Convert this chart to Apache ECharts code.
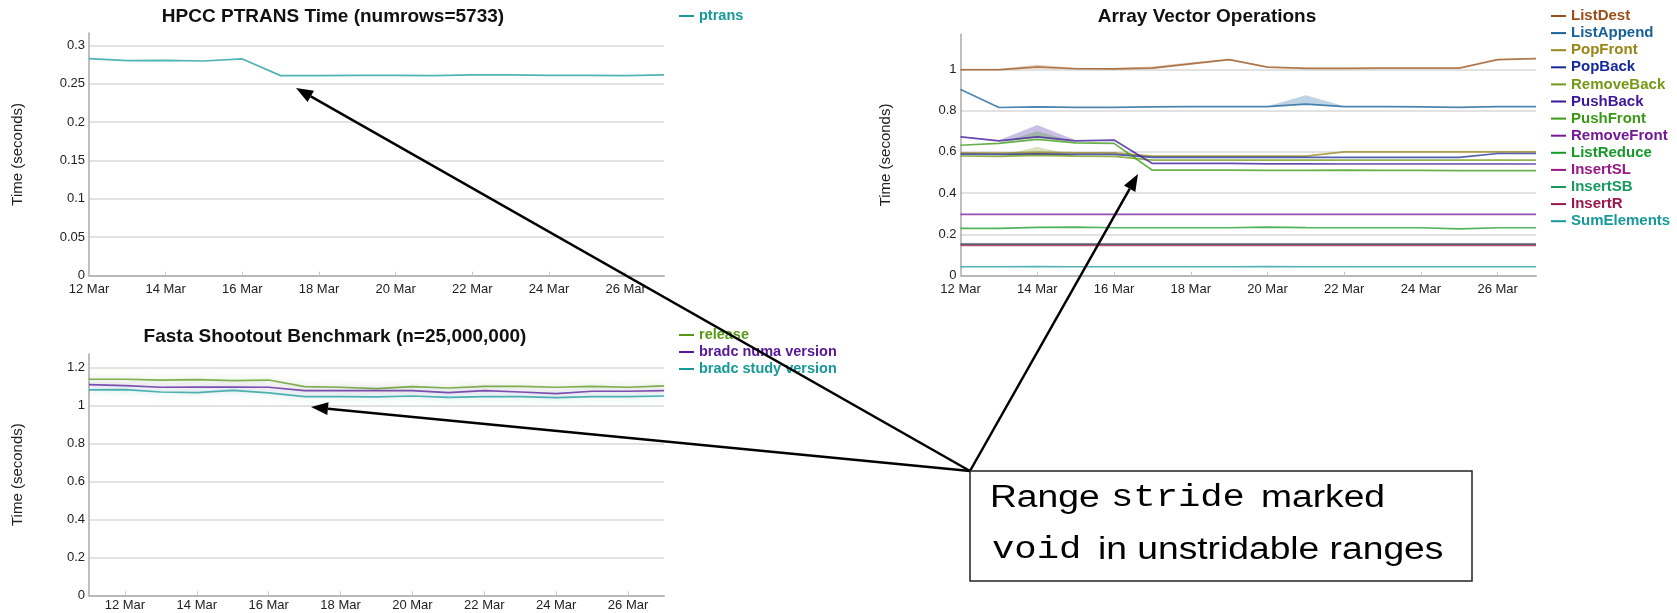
<!DOCTYPE html>
<html>
<head>
<meta charset="utf-8">
<script src="https://cdn.jsdelivr.net/npm/echarts@6.0.0/dist/echarts.min.js"></script>
<style>
  html, body { margin: 0; padding: 0; background: #fff; }
  #main { width: 1677px; height: 613px; }
</style>
</head>
<body>
<div id="main"></div>
<script>
// dates on the x axes
var days = ['12 Mar','13 Mar','14 Mar','15 Mar','16 Mar','17 Mar','18 Mar','19 Mar',
            '20 Mar','21 Mar','22 Mar','23 Mar','24 Mar','25 Mar','26 Mar','27 Mar'];
var fastaDays = ['11 Mar'].concat(days);

// HPCC PTRANS
var ptrans = [0.2827, 0.2801, 0.2804, 0.2795, 0.2822, 0.2605, 0.2605, 0.2608,
              0.2608, 0.2605, 0.2614, 0.2614, 0.2608, 0.2608, 0.2605, 0.2614];

// Fasta
var release   = [1.137, 1.137, 1.133, 1.135, 1.130, 1.133, 1.098, 1.095, 1.088,
                 1.098, 1.091, 1.100, 1.100, 1.095, 1.100, 1.095, 1.102];
var numaVer   = [1.109, 1.104, 1.095, 1.096, 1.096, 1.095, 1.077, 1.077, 1.077,
                 1.077, 1.067, 1.077, 1.070, 1.061, 1.074, 1.074, 1.077];
var studyVer  = [1.081, 1.082, 1.070, 1.067, 1.079, 1.065, 1.046, 1.046, 1.044,
                 1.049, 1.042, 1.046, 1.046, 1.040, 1.046, 1.046, 1.049];

// Array Vector Operations
var listDest     = [0.998, 0.998, 1.011, 1.003, 1.002, 1.006, 1.027, 1.047, 1.011, 1.005, 1.005, 1.006, 1.006, 1.006, 1.047, 1.052];
var listDestHi   = [1.003, 1.003, 1.022, 1.008, 1.006, 1.014, 1.034, 1.050, 1.014, 1.008, 1.008, 1.008, 1.008, 1.008, 1.050, 1.055];
var listAppend   = [0.902, 0.815, 0.818, 0.816, 0.816, 0.818, 0.819, 0.819, 0.819, 0.831, 0.819, 0.819, 0.818, 0.816, 0.819, 0.819];
var listAppendHi = [0.904, 0.817, 0.820, 0.818, 0.818, 0.820, 0.821, 0.821, 0.821, 0.875, 0.821, 0.821, 0.820, 0.818, 0.821, 0.821];
var popFront     = [0.595, 0.594, 0.598, 0.595, 0.595, 0.579, 0.579, 0.579, 0.579, 0.579, 0.600, 0.600, 0.600, 0.600, 0.600, 0.600];
var popBack      = [0.589, 0.588, 0.590, 0.588, 0.588, 0.573, 0.573, 0.573, 0.573, 0.573, 0.573, 0.573, 0.573, 0.573, 0.592, 0.592];
var removeBack   = [0.580, 0.578, 0.583, 0.579, 0.578, 0.560, 0.560, 0.560, 0.560, 0.560, 0.560, 0.560, 0.560, 0.560, 0.560, 0.560];
var removeBackHi = [0.582, 0.580, 0.625, 0.581, 0.580, 0.562, 0.562, 0.562, 0.562, 0.562, 0.562, 0.562, 0.562, 0.562, 0.562, 0.562];
var pushBack     = [0.673, 0.653, 0.673, 0.653, 0.657, 0.544, 0.544, 0.544, 0.542, 0.542, 0.541, 0.541, 0.541, 0.541, 0.541, 0.541];
var pushBackHi   = [0.676, 0.656, 0.730, 0.656, 0.660, 0.546, 0.546, 0.546, 0.544, 0.544, 0.543, 0.543, 0.543, 0.543, 0.543, 0.543];
var pushFront    = [0.632, 0.641, 0.660, 0.644, 0.641, 0.511, 0.511, 0.511, 0.510, 0.510, 0.511, 0.510, 0.510, 0.509, 0.509, 0.509];
var pushFrontHi  = [0.634, 0.643, 0.700, 0.646, 0.643, 0.513, 0.513, 0.513, 0.512, 0.512, 0.513, 0.512, 0.512, 0.511, 0.511, 0.511];
var removeFront  = [0.297, 0.297, 0.297, 0.297, 0.297, 0.297, 0.297, 0.297, 0.297, 0.297, 0.297, 0.297, 0.297, 0.297, 0.297, 0.297];
var listReduce   = [0.229, 0.229, 0.234, 0.235, 0.232, 0.232, 0.232, 0.232, 0.235, 0.233, 0.232, 0.232, 0.232, 0.227, 0.232, 0.232];
var insertSL     = [0.153, 0.153, 0.153, 0.153, 0.153, 0.153, 0.153, 0.153, 0.153, 0.153, 0.153, 0.153, 0.153, 0.153, 0.153, 0.153];
var insertSB     = [0.152, 0.152, 0.152, 0.152, 0.152, 0.152, 0.152, 0.152, 0.152, 0.152, 0.152, 0.152, 0.152, 0.152, 0.152, 0.152];
var insertR      = [0.147, 0.147, 0.147, 0.147, 0.147, 0.147, 0.147, 0.147, 0.147, 0.147, 0.147, 0.147, 0.147, 0.147, 0.147, 0.147];
var sumElements  = [0.043, 0.043, 0.044, 0.043, 0.043, 0.043, 0.043, 0.043, 0.044, 0.043, 0.043, 0.043, 0.043, 0.043, 0.043, 0.043];

var vectorNames = ['ListDest','ListAppend','PopFront','PopBack','RemoveBack','PushBack',
                   'PushFront','RemoveFront','ListReduce','InsertSL','InsertSB','InsertR','SumElements'];
var vectorData = [listDest, listAppend, popFront, popBack, removeBack, pushBack,
                  pushFront, removeFront, listReduce, insertSL, insertSB, insertR, sumElements];
var fastaNames = ['release', 'bradc numa version', 'bradc study version'];
var fastaData = [release, numaVer, studyVer];

var FONT = '"Liberation Sans", Arial, Helvetica, sans-serif';

// dygraphs-style palette
function hsv(h, s, v) {
  var i = Math.floor(h * 6), f = h * 6 - i;
  var p = v * (1 - s), q = v * (1 - f * s), t = v * (1 - (1 - f) * s);
  var rgb = [[v,t,p],[q,v,p],[p,v,t],[p,q,v],[t,p,v],[v,p,q]][i % 6];
  return 'rgb(' + rgb.map(function (c) { return Math.round(c * 255); }).join(',') + ')';
}
function palette(n) {
  var out = [], half = Math.ceil(n / 2);
  for (var i = 0; i < n; i++) {
    var idx = i % 2 ? (half + (i + 1) / 2) : Math.ceil((i + 1) / 2);
    out.push(hsv(idx / (n + 1), 0.85, 0.6));
  }
  return out;
}

var myChart = echarts.init(document.getElementById('main'));

function xAx(gi, data, odd, margin) {
  var show = function (i) { return odd ? i % 2 === 1 : i % 2 === 0; };
  return {
    type: 'category', gridIndex: gi, data: data, boundaryGap: false,
    axisLine: { lineStyle: { color: '#b8b8b8', width: 2 } },
    axisTick: { show: true, inside: true, length: 4, interval: show, lineStyle: { color: '#c8c8c8' } },
    axisLabel: { interval: show, color: '#222', fontSize: 13, fontFamily: FONT, margin: margin },
    splitLine: { show: false }
  };
}
function yAx(gi, max, step, gap) {
  return {
    type: 'value', gridIndex: gi, min: 0, max: max, interval: step,
    name: 'Time (seconds)', nameLocation: 'middle', nameGap: gap,
    nameTextStyle: { color: '#222', fontSize: 15, fontFamily: FONT },
    axisLine: { show: true, lineStyle: { color: '#aaa', width: 1.5 } },
    axisTick: { show: false },
    axisLabel: { color: '#222', fontSize: 13, fontFamily: FONT, margin: 4, showMaxLabel: false },
    splitLine: { showMaxLine: false, lineStyle: { color: '#e2e2e2', width: 2 } }
  };
}
function lineSeries(name, data, color, ax, glow) {
  var s = {
    name: name, type: 'line', xAxisIndex: ax, yAxisIndex: ax, data: data,
    color: color, symbol: 'none', z: 3,
    lineStyle: { width: 1.7, opacity: 0.75 }
  };
  if (glow) {
    s.lineStyle.shadowBlur = 7;
    s.lineStyle.shadowColor = color.replace('rgb', 'rgba').replace(')', ',0.45)');
  }
  return s;
}
function band(name, lo, hi, color, ax) {
  var diff = hi.map(function (v, i) { return Math.max(0, +(v - lo[i]).toFixed(4)); });
  return [
    { name: name + ' lo', type: 'line', xAxisIndex: ax, yAxisIndex: ax, data: lo, stack: name + 'band',
      symbol: 'none', silent: true, z: 1, lineStyle: { opacity: 0 } },
    { name: name + ' hi', type: 'line', xAxisIndex: ax, yAxisIndex: ax, data: diff, stack: name + 'band',
      symbol: 'none', silent: true, z: 1, lineStyle: { opacity: 0 },
      areaStyle: { color: color, opacity: 0.28 } }
  ];
}
function legendFor(names, colors, left, top, gap, size) {
  return {
    left: left, top: top, orient: 'vertical', icon: 'rect', itemWidth: 15, itemHeight: 2,
    itemGap: gap, selectedMode: false, padding: 0,
    textStyle: { fontFamily: FONT, fontSize: size, fontWeight: 'bold', lineHeight: 15 },
    data: names.map(function (n, i) { return { name: n, textStyle: { color: colors[i] } }; })
  };
}

var pColors = palette(1), fColors = palette(3), vColors = palette(13);

var series = [];
series.push(lineSeries('ptrans', ptrans, pColors[0], 0, false));
fastaNames.forEach(function (n, i) { series.push(lineSeries(n, fastaData[i], fColors[i], 1, true)); });
series = series.concat(
  band('ListDest', listDest, listDestHi, vColors[0], 2),
  band('ListAppend', listAppend, listAppendHi, vColors[1], 2),
  band('RemoveBack', removeBack, removeBackHi, vColors[4], 2),
  band('PushBack', pushBack, pushBackHi, vColors[5], 2),
  band('PushFront', pushFront, pushFrontHi, vColors[6], 2)
);
vectorNames.forEach(function (n, i) { series.push(lineSeries(n, vectorData[i], vColors[i], 2, false)); });

// annotation: callout box with three arrows
var origin = [970, 471];
var tips = [[296, 88], [311, 407], [1138, 174]];
var graphics = [];
tips.forEach(function (t) {
  var dx = t[0] - origin[0], dy = t[1] - origin[1];
  var len = Math.sqrt(dx * dx + dy * dy), ux = dx / len, uy = dy / len;
  var L = 17, W = 13;
  var bx = t[0] - ux * L, by = t[1] - uy * L;
  graphics.push({
    type: 'line', z: 100,
    shape: { x1: origin[0], y1: origin[1], x2: bx, y2: by },
    style: { stroke: '#000', lineWidth: 2.5 }
  });
  graphics.push({
    type: 'polygon', z: 100,
    shape: { points: [[t[0], t[1]], [bx - uy * W / 2, by + ux * W / 2], [bx + uy * W / 2, by - ux * W / 2]] },
    style: { fill: '#000' }
  });
});
graphics.push({
  type: 'rect', z: 100,
  shape: { x: 970, y: 471, width: 502, height: 110 },
  style: { fill: '#fff', stroke: '#222', lineWidth: 1.5 }
});
function note(text, x, y, mono) {
  return {
    type: 'text', z: 101, x: x, y: y, scaleX: 1.2,
    style: {
      text: text, fill: '#000', align: 'left', verticalAlign: 'middle',
      font: '31px ' + (mono ? '"Liberation Mono", "Courier New", monospace' : FONT)
    }
  };
}
graphics.push(note('Range', 990, 498, false));
graphics.push(note('stride', 1111, 498, true));
graphics.push(note('marked', 1261, 498, false));
graphics.push(note('void', 992, 550, true));
graphics.push(note('in unstridable ranges', 1098, 550, false));

var titleStyle = { fontSize: 19, fontWeight: 'bold', color: '#111', fontFamily: FONT };

var option = {
  animation: false,
  textStyle: { fontFamily: FONT },
  title: [
    { text: 'HPCC PTRANS Time (numrows=5733)', left: 333, top: 7, textAlign: 'center', padding: 0, textStyle: titleStyle },
    { text: 'Fasta Shootout Benchmark (n=25,000,000)', left: 335, top: 327, textAlign: 'center', padding: 0, textStyle: titleStyle },
    { text: 'Array Vector Operations', left: 1207, top: 7, textAlign: 'center', padding: 0, textStyle: titleStyle }
  ],
  legend: [
    legendFor(['ptrans'], pColors, 679, 8.5, 2, 14.5),
    legendFor(fastaNames, fColors, 679, 327.5, 2, 14.5),
    legendFor(vectorNames, vColors, 1551, 8.5, 2.1, 15)
  ],
  grid: [
    { left: 89, top: 33, width: 575, height: 242.6 },
    { left: 89, top: 354, width: 575, height: 241.3 },
    { left: 960.6, top: 34.3, width: 575.4, height: 241.3 }
  ],
  xAxis: [xAx(0, days, false, 7), xAx(1, fastaDays, true, 4), xAx(2, days, false, 7)],
  yAxis: [yAx(0, 0.316, 0.05, 64), yAx(1, 1.27, 0.2, 64), yAx(2, 1.17, 0.2, 67)],
  series: series,
  graphic: graphics
};

myChart.setOption(option);
</script>
</body>
</html>
